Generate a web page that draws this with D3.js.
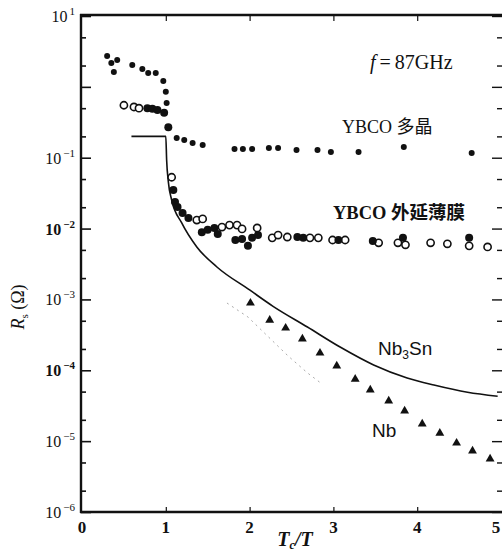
<!DOCTYPE html>
<html><head><meta charset="utf-8">
<script src="https://cdn.jsdelivr.net/npm/d3@7"></script>
<style>body{margin:0;background:#fff} svg{display:block}</style>
</head><body><svg id="c" width="502" height="551"></svg>
<script>
// ---- data ----
const polyX = [0.30,0.35,0.42,0.38,0.60,0.72,0.79,0.88,0.97,1.00,1.01,1.13,1.22,1.32,1.44,1.82,1.92,2.03,2.23,2.34,2.56,2.81,2.97,3.30,3.84,4.65];
const polyY = [2.73,2.17,2.39,1.62,2.03,1.79,1.57,1.57,1.21,0.85,0.59,0.19,0.178,0.161,0.151,0.133,0.133,0.133,0.137,0.137,0.128,0.128,0.12,0.12,0.142,0.117];

const epiOpenX = [0.50,0.62,0.68,1.07,1.37,1.44,1.67,1.76,1.85,1.91,2.09,2.27,2.34,2.45,2.72,2.82,2.99,3.14,3.54,3.77,3.86,4.16,4.36,4.62,4.84];
const epiOpenY = [0.55,0.52,0.50,0.053,0.0132,0.0137,0.0105,0.0112,0.0112,0.0099,0.0102,0.0074,0.0081,0.0076,0.0074,0.0074,0.0069,0.0069,0.0063,0.0063,0.0059,0.0063,0.0061,0.0057,0.0055];

const epiFillX = [0.78,0.84,0.90,0.98,1.03,1.09,1.11,1.14,1.20,1.27,1.43,1.50,1.58,1.62,1.83,1.91,1.98,2.03,2.10,2.57,2.64,3.06,3.47,3.83,4.62];
const epiFillY = [0.50,0.49,0.47,0.43,0.27,0.035,0.0237,0.0202,0.0166,0.0141,0.0089,0.0096,0.0102,0.0084,0.0069,0.0071,0.0057,0.0074,0.0081,0.0076,0.0074,0.0069,0.0067,0.0074,0.0074];

const nb3snX = [0.59,1.00,1.01,1.03,1.07,1.19,1.37,1.61,2.00,2.28,2.69,3.08,3.48,3.88,4.20,4.60,4.96];
const nb3snY = [0.2,0.2,0.093,0.046,0.0253,0.012,0.0055,0.00287,0.00136,0.00080,0.000408,0.000213,0.000119,7.8e-5,6.2e-5,4.9e-5,4.3e-5];

const nbX = [2.01,2.24,2.43,2.63,2.84,3.04,3.26,3.44,3.66,3.85,4.06,4.27,4.47,4.66,4.87];
const nbY = [8.9e-4,5.1e-4,3.95e-4,2.77e-4,1.75e-4,1.15e-4,7.5e-5,5.3e-5,3.7e-5,2.67e-5,1.75e-5,1.30e-5,9.4e-6,7.3e-6,5.6e-6];

const faintX = [1.73,1.98,2.46,2.69,2.85];
const faintY = [8.9e-4,5.65e-4,1.59e-4,9.2e-5,6.6e-5];

const xTickVals = [0,1,2,3,4,5];
const xTickLabels = ["0","1","2","3","4","5"];
const yLabelVals = [10,1e-1,1e-2,1e-3,1e-4,1e-5,1e-6];
const yLabelExp = ["1","\u22121","\u22122","\u22123","\u22124","\u22125","\u22126"];
const yLabelBold = [false,false,true,false,true,false,false];

// ---- chart ----
const svg = d3.select("#c");
const serif = "'Liberation Serif','DejaVu Serif',serif";
const x = d3.scaleLinear().domain([0,5]).range([82,501]);
const y = d3.scaleLog().domain([1e-6,10]).range([512,16]);

const majors = d3.range(-6,2).map(e => Math.pow(10,e));
const minors = [];
d3.range(-6,1).forEach(e => { minors.push(2*Math.pow(10,e)); minors.push(5*Math.pow(10,e)); });

// left axis
const gL = svg.append("g").attr("transform","translate(81,0)");
gL.call(d3.axisLeft(y).tickValues(majors).tickSize(-10).tickFormat(""));
gL.append("g").call(d3.axisLeft(y).tickValues(minors).tickSize(-5).tickFormat(""));
gL.selectAll(".domain").remove();
gL.selectAll("line").attr("stroke","#111").attr("stroke-width",1.6);

// right axis
const gR = svg.append("g").attr("transform","translate(502,0)");
gR.call(d3.axisRight(y).tickValues(majors).tickSize(-10).tickFormat(""));
gR.append("g").call(d3.axisRight(y).tickValues(minors).tickSize(-5).tickFormat(""));
gR.selectAll(".domain").remove();
gR.selectAll("line").attr("stroke","#111").attr("stroke-width",1.4);

// top / bottom ticks
const gT = svg.append("g").attr("transform","translate(0,15)");
gT.call(d3.axisTop(x).tickValues([1,2,3,4]).tickSize(-6).tickFormat(""));
gT.selectAll(".domain").remove();
gT.selectAll("line").attr("stroke","#111").attr("stroke-width",1.2);
const gB = svg.append("g").attr("transform","translate(0,512)");
gB.call(d3.axisBottom(x).tickValues([1,2,3,4]).tickSize(-5).tickFormat(""));
gB.selectAll(".domain").remove();
gB.selectAll("line").attr("stroke","#111").attr("stroke-width",1.2);

// frame
svg.append("line").attr("x1",81).attr("x2",81).attr("y1",14).attr("y2",513).attr("stroke","#111").attr("stroke-width",2.4);
svg.append("line").attr("x1",80).attr("x2",502).attr("y1",15).attr("y2",15).attr("stroke","#111").attr("stroke-width",2.6);
svg.append("line").attr("x1",80).attr("x2",502).attr("y1",512).attr("y2",512).attr("stroke","#111").attr("stroke-width",2.4);

// y tick labels
yLabelVals.forEach((v,i) => {
  const t = svg.append("text").attr("x",75).attr("y",y(v)+6)
    .attr("text-anchor","end").attr("font-family",serif).attr("font-size",16)
    .attr("font-weight", yLabelBold[i] ? "bold" : "normal").attr("fill","#111");
  t.append("tspan").text("10");
  t.append("tspan").attr("dx",2).attr("dy",-7).attr("font-size",11).text(yLabelExp[i]);
});

// x tick labels
xTickVals.forEach((v,i) => {
  svg.append("text").attr("x",Math.min(x(v),496)).attr("y",533).attr("text-anchor","middle")
    .attr("font-family",serif).attr("font-size",17).attr("font-weight","bold")
    .attr("fill","#111").text(xTickLabels[i]);
});

// axis titles
const yt = svg.append("text").attr("transform","translate(24,307) rotate(-90)")
  .attr("text-anchor","middle").attr("font-family",serif).attr("font-size",18).attr("fill","#111");
yt.append("tspan").attr("font-style","italic").text("R");
yt.append("tspan").attr("font-size",11).attr("dy",4).text("s");
yt.append("tspan").attr("dy",-4).text(" (\u03A9)");

const xt = svg.append("text").attr("x",295).attr("y",546).attr("text-anchor","middle")
  .attr("font-family",serif).attr("font-size",20).attr("font-style","italic").attr("font-weight","bold").attr("fill","#111");
xt.append("tspan").text("T");
xt.append("tspan").attr("font-size",12).attr("dy",3).text("c");
xt.append("tspan").attr("dy",-3).text("/T");

// faint dotted line
svg.append("path").datum(d3.zip(faintX,faintY))
  .attr("d", d3.line().x(d=>x(d[0])).y(d=>y(d[1])))
  .attr("fill","none").attr("stroke","#aaa").attr("stroke-width",1).attr("stroke-dasharray","2,4");

// Nb3Sn curve
svg.append("path").datum(d3.zip(nb3snX,nb3snY))
  .attr("d", d3.line().x(d=>x(d[0])).y(d=>y(d[1])).curve(d3.curveMonotoneX))
  .attr("fill","none").attr("stroke","#111").attr("stroke-width",1.6);

// poly YBCO
svg.append("g").selectAll("circle").data(d3.zip(polyX,polyY)).join("circle")
  .attr("cx",d=>x(d[0])).attr("cy",d=>y(d[1])).attr("r",3).attr("fill","#111");

// epi open
svg.append("g").selectAll("circle").data(d3.zip(epiOpenX,epiOpenY)).join("circle")
  .attr("cx",d=>x(d[0])).attr("cy",d=>y(d[1])).attr("r",3.6)
  .attr("fill","#fff").attr("stroke","#111").attr("stroke-width",1.6);

// epi filled
svg.append("g").selectAll("circle").data(d3.zip(epiFillX,epiFillY)).join("circle")
  .attr("cx",d=>x(d[0])).attr("cy",d=>y(d[1])).attr("r",4).attr("fill","#111");

// Nb triangles
svg.append("g").selectAll("path").data(d3.zip(nbX,nbY)).join("path")
  .attr("transform",d=>`translate(${x(d[0])},${y(d[1])})`)
  .attr("d", d3.symbol(d3.symbolTriangle, 34)).attr("fill","#111");

// annotations
const f = svg.append("text").attr("x",370).attr("y",69).attr("font-family",serif).attr("font-size",20).attr("fill","#111");
f.append("tspan").attr("font-style","italic").text("f");
f.append("tspan").text("\u2009=\u200987GHz");

svg.append("text").attr("x",342).attr("y",133).attr("font-size",18).attr("fill","#111")
  .attr("font-family","'Liberation Serif','Noto Sans CJK SC',serif").text("YBCO 多晶");
svg.append("text").attr("x",333).attr("y",219).attr("font-size",18.5).attr("font-weight","bold").attr("fill","#111")
  .attr("font-family","'Liberation Serif','Noto Sans CJK SC',serif").text("YBCO 外延薄膜");

const n3 = svg.append("text").attr("x",378).attr("y",355).attr("font-family","'Liberation Sans','DejaVu Sans',sans-serif").attr("font-size",19).attr("fill","#111");
n3.append("tspan").text("Nb");
n3.append("tspan").attr("font-size",12).attr("dy",4).text("3");
n3.append("tspan").attr("dy",-4).text("Sn");

svg.append("text").attr("x",372).attr("y",437).attr("font-family","'Liberation Sans','DejaVu Sans',sans-serif").attr("font-size",19).attr("fill","#111").text("Nb");
</script>
</body></html>
